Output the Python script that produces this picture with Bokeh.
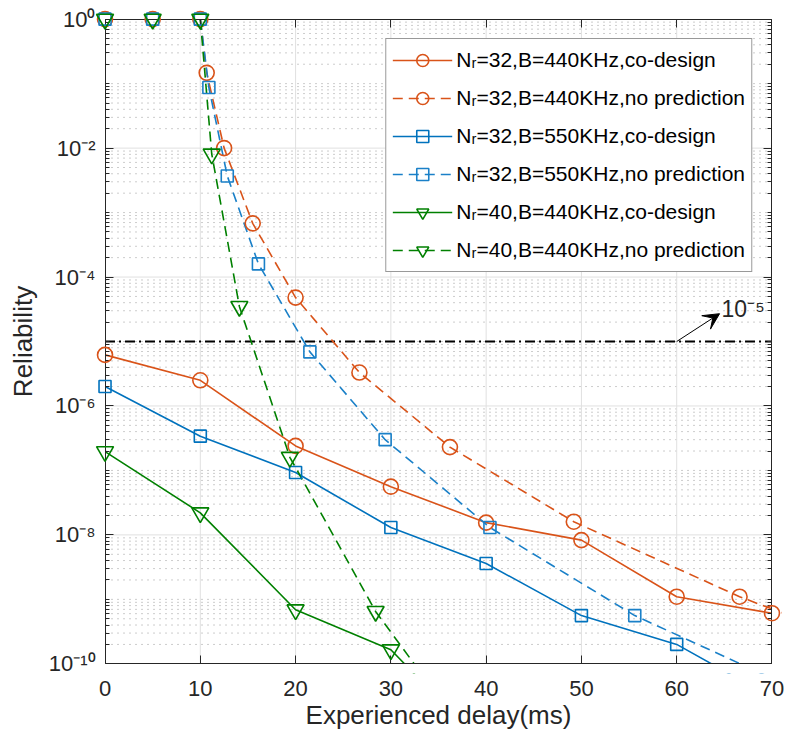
from bokeh.plotting import figure
from bokeh.models import (FixedTicker, LogAxis, LinearAxis, Range1d, Arrow, VeeHead, BoxAnnotation,
                          Label, CustomJSTickFormatter, Legend, LegendItem)
from bokeh.embed import file_html
from bokeh.resources import INLINE

# ---------------- data ----------------
x_or_co = [0, 10, 20, 30, 40, 50, 60, 70]
y_or_co = [6.2e-6, 2.5e-6, 2.4e-7, 5.6e-8, 1.55e-8, 8.3e-9, 1.1e-9, 6.1e-10]

x_or_np = [0, 5, 10, 10.67, 12.5, 15.5, 20, 26.7, 36.2, 49.2, 66.6, 89.6]
y_or_np = [1, 1, 1, 0.147, 1.0e-2, 6.8e-4, 4.8e-5, 3.3e-6, 2.3e-7, 1.6e-8, 1.1e-9, 5.6e-11]

x_bl_co = [0, 10, 20, 30, 40, 50, 60, 70]
y_bl_co = [2.0e-6, 3.4e-7, 9.3e-8, 1.3e-8, 3.6e-9, 5.6e-10, 2.0e-10, 3e-11]

x_bl_np = [0, 5, 10, 10.9, 12.83, 16.1, 21.5, 29.4, 40.4, 55.6, 75.6]
y_bl_np = [1, 1, 1, 0.087, 3.7e-3, 1.6e-4, 6.9e-6, 3.0e-7, 1.3e-8, 5.6e-10, 2.5e-11]

x_gr_co = [0, 10, 20, 30, 40]
y_gr_co = [1.96e-7, 2.2e-8, 6.9e-10, 1.65e-10, 5e-12]

x_gr_np = [0, 5, 10, 11.2, 14.1, 19.4, 28.4, 42.4]
y_gr_np = [1, 1, 1, 8.1e-3, 3.5e-5, 1.6e-7, 6.5e-10, 1e-12]

threshold = 1e-5
arrow_from = (60, 1e-5)
arrow_to = (64.5, 2.7e-5)
thr_label = "10\u207b\u2075"

labels = [
    "N\u1d63=32,B=440KHz,co-design",
    "N\u1d63=32,B=440KHz,no prediction",
    "N\u1d63=32,B=550KHz,co-design",
    "N\u1d63=32,B=550KHz,no prediction",
    "N\u1d63=40,B=440KHz,co-design",
    "N\u1d63=40,B=440KHz,no prediction",
]
x_ticks = [0, 10, 20, 30, 40, 50, 60, 70]
y_ticks = [1e0, 1e-2, 1e-4, 1e-6, 1e-8, 1e-10]
y_minor = [m * 10.0 ** e for e in range(-10, 0) for m in range(1, 10)] + [1e0]

X0, X1 = x_ticks[0], x_ticks[-1]
Y0, Y1 = y_ticks[-1], y_ticks[0]

# ---------------- style ----------------
FONT = "Liberation Sans"
ORANGE = "#D95319"
BLUE = "#0072BD"
BLUE2 = "#1A80C8"
GREEN = "#008000"
AX = "#262626"
GRID = "#e0e0e0"

# frame is padded a little beyond the axes box so edge markers are not clipped
p = figure(frame_width=686, frame_height=664, y_axis_type="log",
           x_range=Range1d(X0 - 1.0, X1 + 1.0),
           y_range=Range1d(Y0 / 10 ** 0.15, Y1 * 10 ** 0.15),
           x_axis_location=None, y_axis_location=None,
           output_backend="svg", toolbar_location=None,
           min_border_left=95, min_border_top=9, min_border_right=4, min_border_bottom=64)
p.outline_line_color = None
p.xgrid.visible = False
p.ygrid.visible = False


def style_axis(ax):
    ax.axis_line_color = AX
    ax.axis_line_width = 1
    ax.major_tick_line_color = AX
    ax.minor_tick_line_color = AX
    ax.major_tick_in = 8
    ax.major_tick_out = 0
    ax.minor_tick_in = 4
    ax.minor_tick_out = 0
    ax.major_label_text_font = FONT
    ax.major_label_text_font_size = "22px"
    ax.major_label_text_color = AX
    ax.axis_label_text_font = FONT
    ax.axis_label_text_font_size = "26px"
    ax.axis_label_text_font_style = "normal"
    ax.axis_label_text_color = AX


def labels_only(ax):
    ax.axis_line_color = None
    ax.major_tick_line_color = None
    ax.minor_tick_line_color = None


fmt = CustomJSTickFormatter(code="""
const sup = {'-':'\\u207b','0':'\\u2070','1':'\\u00b9','2':'\\u00b2','3':'\\u00b3','4':'\\u2074','5':'\\u2075','6':'\\u2076','7':'\\u2077','8':'\\u2078','9':'\\u2079'};
const e = Math.round(Math.log10(tick));
return '10' + String(e).split('').map(c => sup[c]).join('');
""")
blank = CustomJSTickFormatter(code="return '';")

# ---- grid lines drawn only inside the axes box ----
ysrc_major = y_ticks[1:-1]
p.segment(x0=[X0] * len(ysrc_major), x1=[X1] * len(ysrc_major), y0=ysrc_major, y1=ysrc_major,
          line_color=GRID, line_width=1, level="underlay")
ymin = [v for v in y_minor if v not in y_ticks]
p.segment(x0=[X0] * len(ymin), x1=[X1] * len(ymin), y0=ymin, y1=ymin,
          line_color="#cccccc", line_width=1, line_dash="2 4", level="underlay")
xg = x_ticks[1:-1]
p.segment(x0=xg, x1=xg, y0=[Y0] * len(xg), y1=[Y1] * len(xg),
          line_color=GRID, line_width=1, level="underlay")

# ---- label axes (outside the frame) ----
xl = LinearAxis(ticker=FixedTicker(ticks=x_ticks), axis_label="Experienced delay(ms)")
style_axis(xl)
labels_only(xl)
xl.major_label_standoff = 7
xl.axis_label_standoff = 1
p.add_layout(xl, "below")

yl = LogAxis(ticker=FixedTicker(ticks=y_ticks), formatter=fmt, axis_label="Reliability")
style_axis(yl)
labels_only(yl)
yl.major_label_standoff = 0
yl.axis_label_standoff = 8
p.add_layout(yl, "left")

# ---- box axes (lines + inward ticks) at the data edges ----
xb = LinearAxis(ticker=FixedTicker(ticks=x_ticks), formatter=blank, fixed_location=Y0,
                bounds=(X0, X1), major_label_standoff=0)
style_axis(xb)
p.add_layout(xb, "below")

yb = LogAxis(ticker=FixedTicker(ticks=y_ticks, minor_ticks=y_minor), formatter=blank,
             fixed_location=X0, bounds=(Y0, Y1), major_label_standoff=0)
style_axis(yb)
p.add_layout(yb, "left")

top = LinearAxis(ticker=FixedTicker(ticks=x_ticks), formatter=blank, fixed_location=Y1,
                 bounds=(X0, X1), major_label_standoff=0)
style_axis(top)
p.add_layout(top, "above")

right = LogAxis(ticker=FixedTicker(ticks=y_ticks, minor_ticks=y_minor), formatter=blank,
                fixed_location=X1, bounds=(Y0, Y1), major_label_standoff=0)
style_axis(right)
p.add_layout(right, "right")

# ---- white masks outside the box hide line overflow (markers drawn above them) ----
for kw in ({"top": Y0}, {"bottom": Y1}, {"right": X0}, {"left": X1}):
    p.add_layout(BoxAnnotation(fill_color="white", fill_alpha=1, line_color=None,
                               level="glyph", **kw))

# ---- threshold line and its annotation ----
p.line([X0, X1], [threshold, threshold], line_color="black", line_width=2,
       line_dash="10 4 2 4", level="underlay")
p.add_layout(Arrow(x_start=arrow_from[0], y_start=arrow_from[1], x_end=arrow_to[0], y_end=arrow_to[1],
                   line_color="black", line_width=1,
                   end=VeeHead(size=16, fill_color="black", line_color="black")))
p.add_layout(Label(x=arrow_to[0], y=arrow_to[1], text=thr_label, x_offset=2, y_offset=-8,
                   text_font=FONT, text_font_size="23px", text_color=AX))

series = [
    (x_or_co, y_or_co, ORANGE, "solid", "circle", 15),
    (x_or_np, y_or_np, ORANGE, "10 6", "circle", 15),
    (x_bl_co, y_bl_co, BLUE, "solid", "square", 12),
    (x_bl_np, y_bl_np, BLUE2, "10 6", "square", 12),
    (x_gr_co, y_gr_co, GREEN, "solid", "inverted_triangle", 17),
    (x_gr_np, y_gr_np, GREEN, "10 6", "inverted_triangle", 17),
]

items = []
for (xs, ys, col, dash, mk, sz), lab in zip(series, labels):
    r1 = p.line(xs, ys, line_color=col, line_width=1.6, line_dash=dash, level="underlay")
    r2 = p.scatter(xs, ys, marker=mk, size=sz, line_color=col, fill_color=None, line_width=1.6,
                   level="overlay")
    items.append(LegendItem(label=lab, renderers=[r1, r2]))

leg = Legend(items=items, location="top_right")
leg.margin = 29
leg.padding = 6
leg.spacing = 8
leg.glyph_width = 60
leg.glyph_height = 30
leg.label_height = 30
leg.label_standoff = 4
leg.label_text_font = FONT
leg.label_text_font_size = "21px"
leg.label_text_color = "black"
leg.border_line_color = "#333333"
leg.border_line_width = 1
leg.background_fill_color = "white"
leg.background_fill_alpha = 1
p.add_layout(leg, "center")

open("out.html", "w").write(file_html(p, INLINE))
